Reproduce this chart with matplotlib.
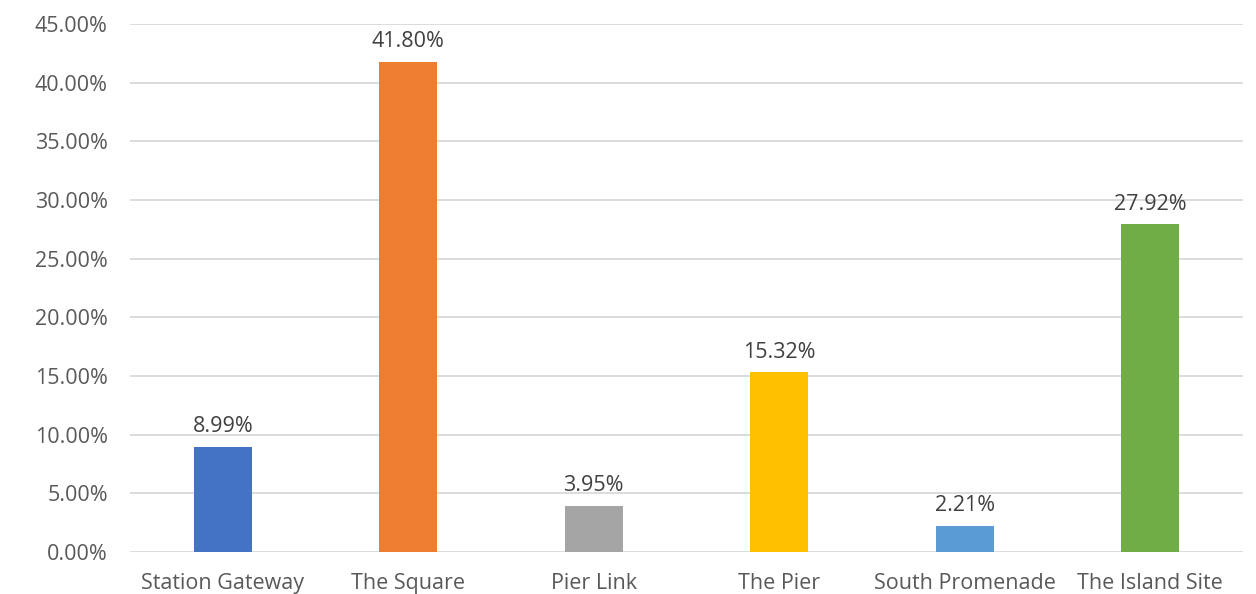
import matplotlib
matplotlib.use("Agg")
import matplotlib.pyplot as plt
from matplotlib.ticker import FuncFormatter, MultipleLocator

categories = ["Station Gateway", "The Square", "Pier Link", "The Pier", "South Promenade", "The Island Site"]
values = [8.99, 41.80, 3.95, 15.32, 2.21, 27.92]
colors = ["#4472C4", "#ED7D31", "#A5A5A5", "#FFC000", "#5B9BD5", "#70AD47"]

plt.rcParams['font.family'] = ['Open Sans', 'DejaVu Sans']

fig = plt.figure(figsize=(12.56, 5.94), dpi=100)
ax = fig.add_axes([130/1256, 42/594, (1243-130)/1256, (552-24)/594])

x = list(range(len(categories)))
bars = ax.bar(x, values, width=0.31, color=colors, zorder=3)
for xi, v in zip(x, values):
    ax.annotate(f"{v:.2f}%", (xi, v), xytext=(0, 7), textcoords="offset points",
                ha="center", va="bottom", fontsize=15.5, color="#404040")

ax.set_xlim(-0.5, len(categories) - 0.5)
ax.set_ylim(0, 45)
ax.yaxis.set_major_locator(MultipleLocator(5))
ax.yaxis.set_major_formatter(FuncFormatter(lambda v, p: f"{v:.2f}%"))
ax.set_xticks(x)
ax.set_xticklabels(categories)
ax.grid(axis="y", color="#D9D9D9", linewidth=1.3, zorder=0)
for s in ax.spines.values():
    s.set_visible(False)
ax.tick_params(axis="both", length=0, labelsize=15.5, colors="#595959")
ax.tick_params(axis="y", pad=16)
ax.tick_params(axis="x", pad=15)

fig.savefig("out.png", dpi=100, facecolor="white")
